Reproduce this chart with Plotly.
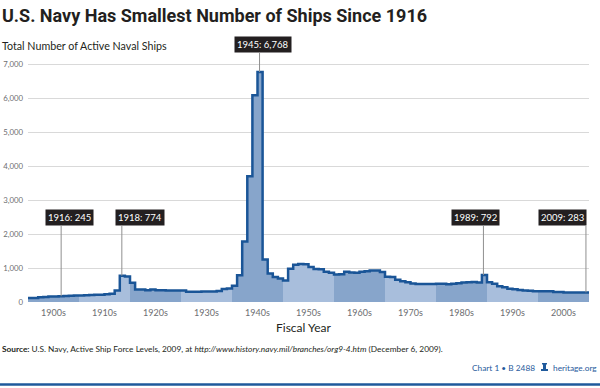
import plotly.graph_objects as go

# ---------------- data ----------------
years = list(range(1900, 2010))
ships = [
    115, 120, 140, 150, 160, 165, 170, 180, 185, 190,          # 1900s
    190, 200, 205, 210, 215, 225, 245, 342, 774, 752,          # 1910s
    565, 365, 365, 345, 365, 345, 345, 340, 338, 336,          # 1920s
    335, 300, 305, 305, 308, 310, 312, 325, 380, 394,          # 1930s
    478, 790, 1782, 3699, 6084, 6768, 1248, 842, 737, 690,     # 1940s
    634, 980, 1097, 1122, 1113, 1030, 973, 967, 890, 860,      # 1950s
    812, 819, 890, 865, 860, 890, 905, 930, 930, 880,          # 1960s
    745, 735, 654, 610, 580, 545, 530, 530, 530, 530,          # 1970s
    535, 535, 520, 540, 555, 575, 585, 590, 575, 792,          # 1980s
    580, 540, 466, 435, 391, 373, 356, 340, 333, 317,          # 1990s
    318, 316, 313, 297, 291, 282, 281, 279, 282, 283,          # 2000s
]
decade_starts = list(range(1900, 2010, 10))
decade_labels = ["1900s", "1910s", "1920s", "1930s", "1940s", "1950s",
                 "1960s", "1970s", "1980s", "1990s", "2000s"]
y_ticks = [0, 1000, 2000, 3000, 4000, 5000, 6000, 7000]

callout_text = ["1916: 245", "1918: 774", "1945: 6,768", "1989: 792", "2009: 283"]
callout_pointer_x = [1906.5, 1918.4, 1945.4, 1989.3, 2009.4]   # where the leader line sits
callout_shift_px = [8, 18, 3, -8, -23]                          # box offset from leader
callout_box_bottom_px = [226, 226, 53, 226, 226]

# ---------------- layout geometry ----------------
W, H = 600, 388
ML, MR, MT, MB = 28, 11, 37, 86
PW, PH = W - ML - MR, H - MT - MB
Y_MAX = 7800


def px_x(px):
    return (px - ML) / PW


def px_y(py):
    return (H - MB - py) / PH


def y_val(py):
    return (H - MB - py) / PH * Y_MAX


DARK = "#87a5cb"
LIGHT = "#a8bedc"
LINE = "#1a5597"
TXT = "#231f20"
GREY = "#6d6e71"
BLUE = "#1f5a9c"
FONT = "Lato, Open Sans, sans-serif"

fig = go.Figure()

# decade bands (fill under step line)
for i, d in enumerate(decade_starts):
    idx = [k for k, yv in enumerate(years) if d <= yv < d + 10]
    xs = [years[k] for k in idx] + [d + 10]
    ys = [ships[k] for k in idx] + [ships[idx[-1]]]
    fig.add_trace(go.Scatter(
        x=xs, y=ys, mode="lines", line=dict(width=0, shape="hv"),
        fill="tozeroy", fillcolor=DARK if i % 2 == 0 else LIGHT,
        hoverinfo="skip", showlegend=False))

# step outline
fig.add_trace(go.Scatter(
    x=years + [years[-1] + 1], y=ships + [ships[-1]], mode="lines",
    line=dict(color=LINE, width=2.5, shape="hv"),
    hoverinfo="skip", showlegend=False))

shapes = []
annotations = []

# callouts
for txt, xp, sh, bb in zip(callout_text, callout_pointer_x, callout_shift_px, callout_box_bottom_px):
    base = ships[int(xp) - 1900]
    shapes.append(dict(type="line", xref="x", yref="y", x0=xp, x1=xp,
                       y0=base, y1=y_val(bb), line=dict(color="#8f8f8f", width=1)))
    annotations.append(dict(xref="x", yref="paper", x=xp, xshift=sh, y=px_y(bb),
                            yanchor="bottom", xanchor="center", showarrow=False,
                            text=txt, font=dict(family=FONT, size=9.5, color="white"),
                            bgcolor=TXT, borderpad=2))

# title + subtitle
annotations.append(dict(xref="paper", yref="paper", x=px_x(0), y=px_y(15),
                        xanchor="left", yanchor="middle", showarrow=False,
                        text="<b>U.S. Navy Has Smallest Number of Ships Since 1916</b>",
                        font=dict(family="Roboto, sans-serif", size=18, color=TXT)))
annotations.append(dict(xref="paper", yref="paper", x=px_x(0), y=px_y(45),
                        xanchor="left", yanchor="middle", showarrow=False,
                        text="Total Number of Active Naval Ships",
                        font=dict(family=FONT, size=10.7, color=TXT)))
# axis title
annotations.append(dict(xref="paper", yref="paper", x=px_x(303), y=px_y(327),
                        xanchor="center", yanchor="middle", showarrow=False,
                        text="Fiscal Year", font=dict(family=FONT, size=12, color=TXT)))
# source
annotations.append(dict(xref="paper", yref="paper", x=px_x(0), y=px_y(349),
                        xanchor="left", yanchor="middle", showarrow=False,
                        text="<b>Source:</b> U.S. Navy, Active Ship Force Levels, 2009, at "
                             "<i>http://www.history.navy.mil/branches/org9-4.htm</i> (December 6, 2009).",
                        font=dict(family=FONT, size=8.3, color=TXT)))
# footer
annotations.append(dict(xref="paper", yref="paper", x=px_x(537), y=px_y(368),
                        xanchor="right", yanchor="middle", showarrow=False,
                        text="Chart 1 • B 2488", font=dict(family=FONT, size=8.3, color=BLUE)))
annotations.append(dict(xref="paper", yref="paper", x=px_x(599), y=px_y(368),
                        xanchor="right", yanchor="middle", showarrow=False,
                        text="heritage.org", font=dict(family=FONT, size=8.3, color=BLUE)))

# liberty bell icon
bx = [542, 547, 547, 546, 546, 548, 548, 541, 541, 543, 543, 542]
by = [363, 363, 364.5, 364.5, 369, 369, 371, 371, 369, 369, 364.5, 364.5]
path = "M " + " L ".join(f"{px_x(a):.5f},{px_y(b):.5f}" for a, b in zip(bx, by)) + " Z"
shapes.append(dict(type="path", xref="paper", yref="paper", path=path,
                   fillcolor=BLUE, line=dict(width=0)))
# bottom rule
shapes.append(dict(type="line", xref="paper", yref="paper", x0=px_x(0), x1=px_x(600),
                   y0=px_y(384.5), y1=px_y(384.5), line=dict(color=BLUE, width=2.5)))

fig.update_layout(
    width=W, height=H, margin=dict(l=ML, r=MR, t=MT, b=MB),
    paper_bgcolor="white", plot_bgcolor="white",
    shapes=shapes, annotations=annotations,
    xaxis=dict(range=[1900, 2010], tickvals=[d + 5 for d in decade_starts],
               ticktext=decade_labels, showgrid=False, zeroline=False, showline=False,
               ticks="", ticklabelstandoff=4,
               tickfont=dict(family=FONT, size=9, color=GREY), automargin=False),
    yaxis=dict(range=[0, Y_MAX], tickvals=y_ticks, tickformat=",d", showgrid=True,
               gridcolor="#d9d9d9", gridwidth=1, zeroline=False, showline=False, ticks="",
               ticklabelstandoff=4,
               tickfont=dict(family=FONT, size=7.8, color=GREY), automargin=False),
)

fig.write_html("out.html", config={"displayModeBar": False},
               post_script="document.body.style.margin='0';document.body.style.overflow='hidden';")
